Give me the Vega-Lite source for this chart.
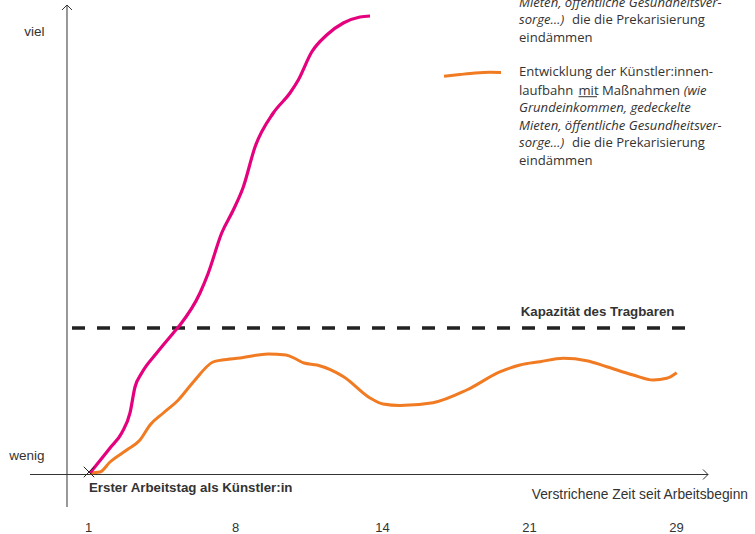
{
  "$schema": "https://vega.github.io/schema/vega-lite/v6.json",
  "width": 755,
  "height": 534,
  "autosize": {"type": "none"},
  "padding": 0,
  "background": "white",
  "config": {"view": {"stroke": null}},
  "datasets": {
    "ohne": [
      {"u": 0.0136, "v": 0.217}, {"u": 0.1497, "v": 5.652}, {"u": 0.2293, "v": 8.913},
      {"u": 0.2857, "v": 13.261}, {"u": 0.3197, "v": 18.913}, {"u": 0.3653, "v": 21.957},
      {"u": 0.4673, "v": 26.304}, {"u": 0.5803, "v": 30.652}, {"u": 0.6259, "v": 32.391},
      {"u": 0.7619, "v": 39.348}, {"u": 0.8184, "v": 43.696}, {"u": 0.9095, "v": 52.391},
      {"u": 0.9884, "v": 57.391}, {"u": 1.0565, "v": 62.391}, {"u": 1.1361, "v": 71.087},
      {"u": 1.2605, "v": 78.478}, {"u": 1.3741, "v": 82.826}, {"u": 1.4306, "v": 85.652},
      {"u": 1.5218, "v": 91.739}, {"u": 1.6238, "v": 95.435}, {"u": 1.7367, "v": 98.043},
      {"u": 1.8503, "v": 99.348}, {"u": 1.9184, "v": 99.565}
    ],
    "mit": [
      {"u": 0.0136, "v": 0.217}, {"u": 0.0816, "v": 0.435}, {"u": 0.1497, "v": 2.609},
      {"u": 0.2633, "v": 5.217}, {"u": 0.3537, "v": 7.391}, {"u": 0.4218, "v": 10.652},
      {"u": 0.5122, "v": 13.261}, {"u": 0.6143, "v": 16.087}, {"u": 0.7163, "v": 20.0},
      {"u": 0.8503, "v": 24.348}, {"u": 0.9116, "v": 24.783}, {"u": 1.034, "v": 25.217},
      {"u": 1.2245, "v": 26.087}, {"u": 1.3469, "v": 25.87}, {"u": 1.415, "v": 25.0},
      {"u": 1.4694, "v": 24.13}, {"u": 1.5578, "v": 23.696}, {"u": 1.7415, "v": 21.087},
      {"u": 1.9184, "v": 16.522}, {"u": 2.0068, "v": 15.217}, {"u": 2.1224, "v": 14.891},
      {"u": 2.3469, "v": 15.5}, {"u": 2.5762, "v": 18.261}, {"u": 2.8054, "v": 22.239},
      {"u": 2.9388, "v": 23.696}, {"u": 3.0748, "v": 24.413}, {"u": 3.2333, "v": 25.152},
      {"u": 3.3925, "v": 24.63}, {"u": 3.5286, "v": 23.326}, {"u": 3.7095, "v": 21.522},
      {"u": 3.8456, "v": 20.435}, {"u": 3.9367, "v": 20.804}, {"u": 4.0048, "v": 22.022}
    ],
    "legendeMit": [
      {"u": 2.4218, "v": 86.457}, {"u": 2.5306, "v": 86.848}, {"u": 2.6327, "v": 87.174},
      {"u": 2.7347, "v": 87.326}, {"u": 2.8095, "v": 87.283}
    ],
    "achsen": [
      {"u": -0.1429, "u2": -0.1429, "v": -7.174, "v2": 101.957},
      {"u": -0.3946, "u2": 4.2177, "v": -0.109, "v2": -0.109}
    ],
    "grenze": [{"u": -0.1088, "u2": 4.102, "v": 31.739}],
    "pfeilX": [{"u": 4.2177, "v": -0.109}],
    "pfeilY": [{"u": -0.1429, "v": 101.957}],
    "start": [{"u": 0.0068, "v": 0.435}],
    "normal": [
      {"u": 2.932, "v": 87.391, "t": "Entwicklung der Künstler:innen-"},
      {"u": 2.932, "v": 83.261, "t": "laufbahn"},
      {"u": 3.3367, "v": 83.261, "t": "mit"},
      {"u": 3.4966, "v": 83.261, "t": "Maßnahmen"},
      {"u": 3.2925, "v": 71.957, "t": "die die Prekarisierung"},
      {"u": 2.932, "v": 68.043, "t": "eindämmen"},
      {"u": 3.2925, "v": 98.696, "t": "die die Prekarisierung"},
      {"u": 2.932, "v": 94.891, "t": "eindämmen"}
    ],
    "kursiv": [
      {"u": 4.0524, "v": 83.261, "t": "(wie"},
      {"u": 2.932, "v": 79.565, "t": "Grundeinkommen, gedeckelte"},
      {"u": 2.932, "v": 75.652, "t": "Mieten, öffentliche Gesundheitsver-"},
      {"u": 2.932, "v": 71.957, "t": "sorge…)"},
      {"u": 2.932, "v": 102.5, "t": "Mieten, öffentliche Gesundheitsver-"},
      {"u": 2.932, "v": 98.696, "t": "sorge…)"}
    ],
    "unterstrich": [{"u": 3.3367, "u2": 3.4626, "v": 82.02}],
    "fett": [
      {"u": 2.9435, "v": 35.283, "t": "Kapazität des Tragbaren"},
      {"u": 0.0068, "v": -3.043, "t": "Erster Arbeitstag als Künstler:in"}
    ],
    "achsentitel": [
      {"u": 3.0184, "v": -4.565, "t": "Verstrichene Zeit seit Arbeitsbeginn"}
    ]
  },
  "encoding": {
    "x": {
      "field": "u", "type": "quantitative",
      "scale": {"domain": [-0.59864, 4.53741], "nice": false, "zero": false},
      "axis": {
        "values": [0, 1, 2, 3, 4],
        "labelExpr": "['1','8','14','21','29'][datum.value]",
        "domain": false, "ticks": false, "grid": false, "title": null,
        "orient": "bottom", "offset": -7, "labelPadding": 0,
        "labelBaseline": "middle", "labelFont": "Liberation Sans",
        "labelFontSize": 13, "labelColor": "#333333",
        "labelFlush": false, "labelOverlap": false
      }
    },
    "y": {
      "field": "v", "type": "quantitative",
      "scale": {"domain": [-13.0435, 103.0435], "nice": false, "zero": false},
      "axis": {
        "values": [4.13, 96.09],
        "labelExpr": "datum.value > 50 ? 'viel' : 'wenig'",
        "domain": false, "ticks": false, "grid": false, "title": null,
        "orient": "left", "offset": -46, "labelPadding": 2,
        "labelFont": "Liberation Sans", "labelFontSize": 13.5,
        "labelColor": "#333333", "labelOverlap": false
      }
    }
  },
  "layer": [
    {
      "data": {"name": "achsen"},
      "mark": {"type": "rule", "color": "#333333", "strokeWidth": 1},
      "encoding": {"x2": {"field": "u2"}, "y2": {"field": "v2"}}
    },
    {
      "data": {"name": "pfeilX"},
      "mark": {"type": "point", "shape": "M-1,-1L0,0L-1,1", "size": 100, "filled": false, "stroke": "#333333", "strokeWidth": 1, "opacity": 1},
      "encoding": {}
    },
    {
      "data": {"name": "pfeilY"},
      "mark": {"type": "point", "shape": "M-1,1L0,0L1,1", "size": 100, "filled": false, "stroke": "#333333", "strokeWidth": 1, "opacity": 1},
      "encoding": {}
    },
    {
      "data": {"name": "grenze"},
      "mark": {"type": "rule", "color": "#222222", "strokeWidth": 3.5, "strokeDash": [13, 12]},
      "encoding": {"x2": {"field": "u2"}}
    },
    {
      "data": {"name": "mit"},
      "mark": {"type": "line", "color": "#f17b22", "strokeWidth": 3, "interpolate": "monotone"},
      "encoding": {}
    },
    {
      "data": {"name": "ohne"},
      "mark": {"type": "line", "color": "#e5007d", "strokeWidth": 3.2, "interpolate": "monotone"},
      "encoding": {}
    },
    {
      "data": {"name": "legendeMit"},
      "mark": {"type": "line", "color": "#f17b22", "strokeWidth": 3, "interpolate": "monotone"},
      "encoding": {}
    },
    {
      "data": {"name": "start"},
      "mark": {"type": "point", "shape": "M-1,-1L1,1M-1,1L1,-1", "size": 110, "filled": false, "stroke": "#222222", "strokeWidth": 1, "opacity": 1},
      "encoding": {}
    },
    {
      "data": {"name": "normal"},
      "mark": {"type": "text", "align": "left", "baseline": "middle", "font": "Open Sans", "fontSize": 13.1, "color": "#333333"},
      "encoding": {"text": {"field": "t"}}
    },
    {
      "data": {"name": "kursiv"},
      "mark": {"type": "text", "align": "left", "baseline": "middle", "font": "Open Sans", "fontSize": 13.1, "fontStyle": "italic", "color": "#333333"},
      "encoding": {"text": {"field": "t"}}
    },
    {
      "data": {"name": "unterstrich"},
      "mark": {"type": "rule", "color": "#333333", "strokeWidth": 1},
      "encoding": {"x2": {"field": "u2"}}
    },
    {
      "data": {"name": "fett"},
      "mark": {"type": "text", "align": "left", "baseline": "middle", "font": "Liberation Sans", "fontSize": 13.3, "fontWeight": "bold", "color": "#333333"},
      "encoding": {"text": {"field": "t"}}
    },
    {
      "data": {"name": "achsentitel"},
      "mark": {"type": "text", "align": "left", "baseline": "middle", "font": "Liberation Sans", "fontSize": 13.8, "color": "#333333"},
      "encoding": {"text": {"field": "t"}}
    }
  ]
}
